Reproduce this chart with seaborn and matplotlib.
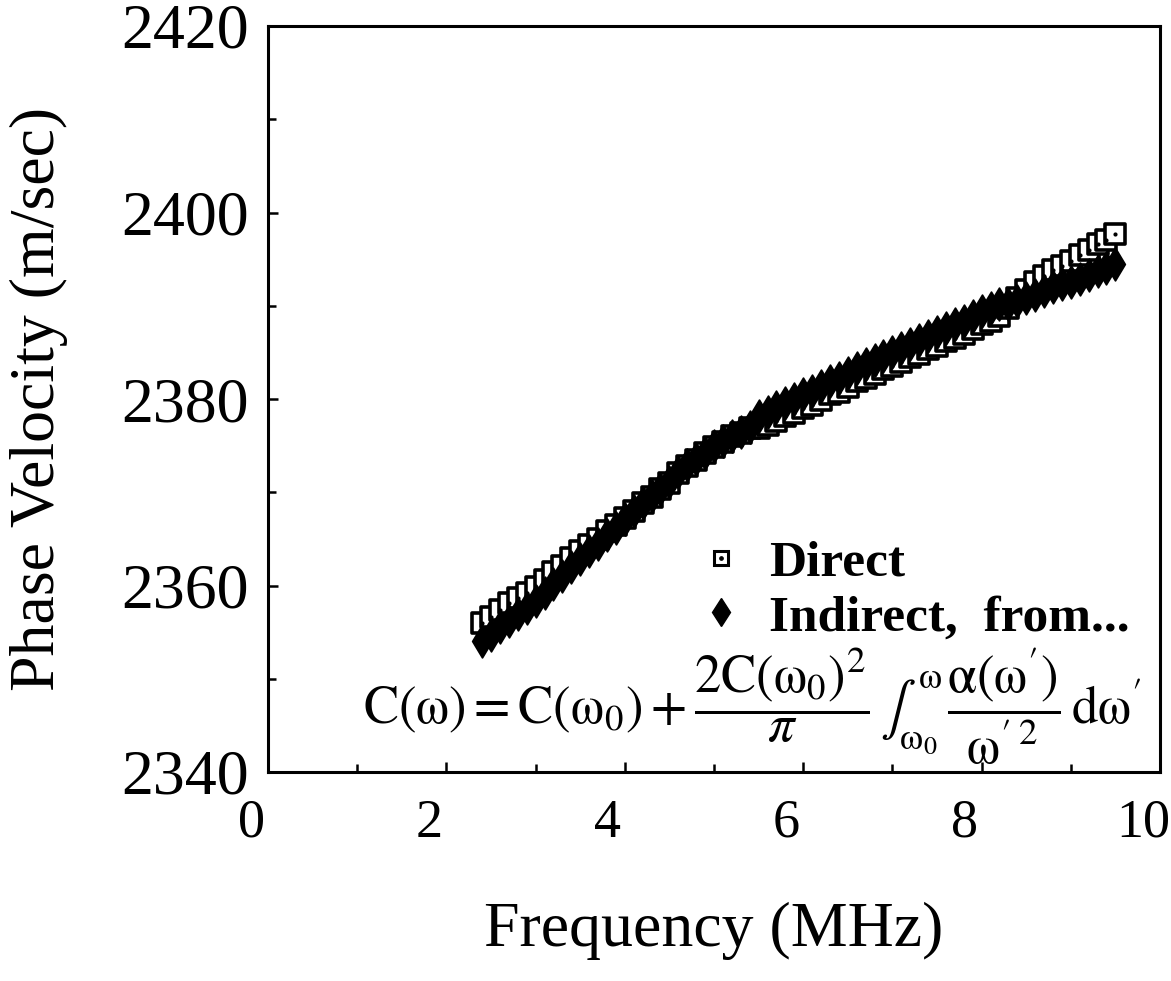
import numpy as np
import pandas as pd
import matplotlib
matplotlib.use("Agg")
import matplotlib.pyplot as plt
import matplotlib.transforms as mtransforms
from matplotlib.lines import Line2D
from matplotlib.legend_handler import HandlerTuple
from matplotlib.ticker import MultipleLocator
import seaborn as sns

# ---------------- data ----------------
freq = [2.4, 2.5, 2.6, 2.7, 2.8, 2.9, 3.0, 3.1, 3.2, 3.3, 3.4, 3.5, 3.6, 3.7, 3.8, 3.9,
        4.0, 4.1, 4.2, 4.3, 4.4, 4.5, 4.6, 4.7, 4.8, 4.9, 5.0, 5.1, 5.2, 5.3, 5.4, 5.5,
        5.6, 5.7, 5.8, 5.9, 6.0, 6.1, 6.2, 6.3, 6.4, 6.5, 6.6, 6.7, 6.8, 6.9, 7.0, 7.1,
        7.2, 7.3, 7.4, 7.5, 7.6, 7.7, 7.8, 7.9, 8.0, 8.1, 8.2, 8.3, 8.4, 8.5, 8.6, 8.7,
        8.8, 8.9, 9.0, 9.1, 9.2, 9.3, 9.4, 9.5]

direct = [2356.0, 2356.6, 2357.4, 2358.1, 2358.7, 2359.2, 2359.8, 2360.6, 2361.4, 2362.1,
          2362.9, 2363.7, 2364.3, 2365.0, 2365.8, 2366.5, 2367.2, 2368.0, 2368.9, 2369.5,
          2370.4, 2371.0, 2372.1, 2372.8, 2373.5, 2374.2, 2374.9, 2375.4, 2376.0, 2376.4,
          2376.9, 2376.9, 2377.2, 2377.6, 2378.2, 2378.5, 2379.0, 2379.4, 2379.9, 2380.5,
          2380.8, 2381.3, 2381.9, 2382.3, 2382.7, 2383.2, 2383.5, 2384.0, 2384.5, 2384.8,
          2385.4, 2385.7, 2386.2, 2386.5, 2387.0, 2387.5, 2388.0, 2388.4, 2388.9, 2389.8,
          2390.8, 2391.7, 2392.5, 2393.2, 2393.8, 2394.3, 2394.8, 2395.4, 2396.0, 2396.6,
          2397.1, 2397.7]

indirect = [2354.0, 2354.7, 2355.5, 2356.2, 2356.9, 2357.6, 2358.3, 2359.2, 2360.2, 2361.0,
            2362.0, 2362.8, 2363.7, 2364.5, 2365.4, 2366.2, 2367.1, 2368.0, 2368.9, 2369.6,
            2370.4, 2371.1, 2372.2, 2372.9, 2373.6, 2374.2, 2375.0, 2375.5, 2376.0, 2376.5,
            2377.0, 2378.2, 2378.6, 2379.1, 2379.6, 2380.0, 2380.5, 2380.9, 2381.4, 2381.9,
            2382.3, 2382.8, 2383.3, 2383.8, 2384.2, 2384.6, 2385.0, 2385.5, 2385.9, 2386.3,
            2386.8, 2387.2, 2387.6, 2388.0, 2388.4, 2388.9, 2389.4, 2389.8, 2390.2, 2390.2,
            2390.5, 2390.8, 2391.2, 2391.6, 2392.0, 2392.3, 2392.6, 2392.9, 2393.3, 2393.7,
            2394.1, 2394.5]

x_ticks = [0, 2, 4, 6, 8, 10]
y_ticks = [2340, 2360, 2380, 2400, 2420]
legend_labels = ["Direct", "Indirect,  from..."]

# ---------------- style ----------------
sns.set_theme(style="ticks")
plt.rcParams["font.family"] = ["Liberation Serif", "DejaVu Serif"]
plt.rcParams["mathtext.fontset"] = "stix"
plt.rcParams["text.color"] = "black"
plt.rcParams["axes.labelcolor"] = "black"

fig = plt.figure(figsize=(11.71, 9.81), dpi=100)
ax = fig.add_axes([268 / 1171, 1 - 772 / 981, (1160 - 268) / 1171, (772 - 26) / 981])

df_d = pd.DataFrame({"f": freq, "v": direct})
df_i = pd.DataFrame({"f": freq, "v": indirect})

sns.scatterplot(data=df_d, x="f", y="v", marker="s", s=190, facecolor="white",
                edgecolor="black", linewidth=2.6, ax=ax, zorder=3, legend=False)
sns.scatterplot(data=df_d, x="f", y="v", marker="o", s=9, color="black",
                linewidth=0, ax=ax, zorder=4, legend=False)
sns.scatterplot(data=df_i, x="f", y="v", marker="d", s=280, color="black",
                edgecolor="black", linewidth=1.2, ax=ax, zorder=5, legend=False)

ax.set_xlim(0, 10)
ax.set_ylim(2340, 2420)
ax.set_xticks(x_ticks)
ax.set_yticks(y_ticks)
ax.xaxis.set_minor_locator(MultipleLocator(1))
ax.yaxis.set_minor_locator(MultipleLocator(10))
ax.tick_params(which="both", direction="in", top=False, right=False,
               width=1.8, color="black", labelcolor="black")
ax.tick_params(axis="y", labelsize=46)
ax.tick_params(axis="x", labelsize=39)
ax.tick_params(which="major", length=7)
ax.tick_params(axis="y", which="major", pad=14)
ax.tick_params(axis="x", which="major", pad=19)
ax.tick_params(which="minor", length=6)
for sp in ax.spines.values():
    sp.set_visible(True)
    sp.set_linewidth(2.2)
    sp.set_color("black")

shift = mtransforms.ScaledTranslation(-17 / 100, 0, fig.dpi_scale_trans)
for lab in ax.get_xticklabels():
    lab.set_transform(lab.get_transform() + shift)

ax.set_xlabel("Frequency (MHz)", fontsize=46, labelpad=38, color="black")
ax.set_ylabel("Phase Velocity (m/sec)", fontsize=46, labelpad=38, color="black")

# legend
h_sq = Line2D([], [], marker="s", markersize=9.5, markerfacecolor="white",
              markeredgecolor="black", markeredgewidth=2.2, linestyle="none")
h_dot = Line2D([], [], marker="o", markersize=2.4, color="black", linestyle="none")
h_di = Line2D([], [], marker="d", markersize=14.5, color="black", linestyle="none")
leg = ax.legend([(h_sq, h_dot), h_di], legend_labels,
                handler_map={tuple: HandlerTuple(ndivide=1)},
                loc="upper left", bbox_to_anchor=(670 / 1171, 1 - 514 / 981),
                bbox_transform=fig.transFigure, frameon=False,
                prop={"family": "Liberation Serif", "weight": "bold", "size": 37},
                handlelength=1.0, handletextpad=0.42, labelspacing=0.15, borderpad=0)
for t in leg.get_texts():
    t.set_color("black")

eq = (r"$\mathrm{C}(\mathrm{\omega}) = \mathrm{C}(\mathrm{\omega}_0) + "
      r"\dfrac{2\mathrm{C}(\mathrm{\omega}_0)^2}{\pi}\,\int_{\mathrm{\omega}_0}^{\mathrm{\omega}}\,"
      r"\dfrac{\mathrm{\alpha}(\mathrm{\omega}')}{\mathrm{\omega}'^{\,2}}\,\mathrm{d}\mathrm{\omega}'$")
fig.text(752 / 1171, 1 - 706 / 981, eq, fontsize=38, ha="center", va="center",
         color="black")

fig.savefig("out.png", dpi=100)
